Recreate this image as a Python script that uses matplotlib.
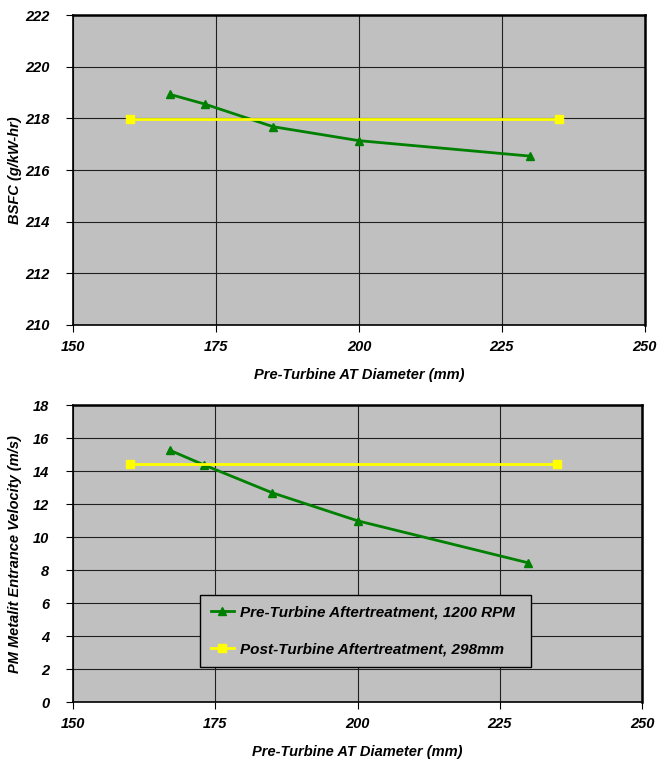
import matplotlib
matplotlib.use("Agg")
import matplotlib.pyplot as plt

# Pre-turbine aftertreatment diameters (mm) and results at 1200 RPM
pre_diam = [167, 173, 185, 200, 230]
pre_bsfc = [218.93, 218.56, 217.68, 217.14, 216.54]
pre_velocity = [15.27, 14.38, 12.69, 10.99, 8.44]

# Post-turbine reference (298 mm), drawn as a flat line across the range
post_diam = [160, 235]
post_bsfc = [217.97, 217.97]
post_velocity = [14.42, 14.42]

PRE_LABEL = "Pre-Turbine Aftertreatment, 1200 RPM"
POST_LABEL = "Post-Turbine Aftertreatment, 298mm"
X_LABEL = "Pre-Turbine AT Diameter (mm)"

GREEN = "#008000"
YELLOW = "#ffff00"
PLOT_BG = "#c0c0c0"

plt.rcParams["font.family"] = ["Liberation Sans", "DejaVu Sans"]
font_kw = dict(fontweight="bold", fontstyle="italic")

fig = plt.figure(figsize=(6.58, 7.61), dpi=100)
fig.patch.set_facecolor("white")

ax_top = fig.add_axes([0.111, 0.573, 0.869, 0.407])
ax_bot = fig.add_axes([0.111, 0.0775, 0.865, 0.390])


def style_axes(ax, ylim, yticks):
    ax.set_facecolor(PLOT_BG)
    ax.set_xlim(150, 250)
    ax.set_xticks([150, 175, 200, 225, 250])
    ax.set_ylim(*ylim)
    ax.set_yticks(yticks)
    ax.grid(True, color="#202020", linewidth=0.8)
    ax.set_axisbelow(True)
    for side in ["left", "bottom"]:
        ax.spines[side].set_linewidth(1.2)
    for side in ["top", "right"]:
        ax.spines[side].set_linewidth(1.8)
    ax.tick_params(direction="out", length=5, width=0.8, labelsize=10.5)
    ax.tick_params(axis="x", pad=6)
    ax.tick_params(axis="y", pad=12)
    for lbl in ax.get_xticklabels() + ax.get_yticklabels():
        lbl.set_fontweight("bold")
        lbl.set_fontstyle("italic")
    ax.set_xlabel(X_LABEL, fontsize=10.5, labelpad=10, **font_kw)


# BSFC panel
style_axes(ax_top, (210, 222), range(210, 223, 2))
ax_top.plot(pre_diam, pre_bsfc, color=GREEN, linewidth=2, marker="^",
            markersize=6, label=PRE_LABEL, zorder=3)
ax_top.plot(post_diam, post_bsfc, color=YELLOW, linewidth=2, marker="s",
            markersize=6, label=POST_LABEL, zorder=3)
ax_top.set_ylabel("BSFC (g/kW-hr)", fontsize=10.5, **font_kw)
ax_top.yaxis.set_label_coords(-0.09, 0.5)

# Velocity panel
style_axes(ax_bot, (0, 18), range(0, 19, 2))
ax_bot.plot(pre_diam, pre_velocity, color=GREEN, linewidth=2, marker="^",
            markersize=6, label=PRE_LABEL, zorder=3)
ax_bot.plot(post_diam, post_velocity, color=YELLOW, linewidth=2, marker="s",
            markersize=6, label=POST_LABEL, zorder=3)
ax_bot.set_ylabel("PM Metalit Entrance Velocity (m/s)", fontsize=10.5, **font_kw)
ax_bot.yaxis.set_label_coords(-0.09, 0.5)

leg = ax_bot.legend(loc="lower left", bbox_to_anchor=(0.223, 0.118, 0.582, 0.236),
                    mode="expand", frameon=True, fancybox=False,
                    facecolor=PLOT_BG, edgecolor="black", framealpha=1,
                    prop=dict(size=11, weight="bold", style="italic"),
                    handlelength=1.5, handletextpad=0.4, labelspacing=1.5,
                    borderpad=0.7, borderaxespad=0)
leg.get_frame().set_linewidth(1.0)

fig.savefig("out.png", dpi=100)
